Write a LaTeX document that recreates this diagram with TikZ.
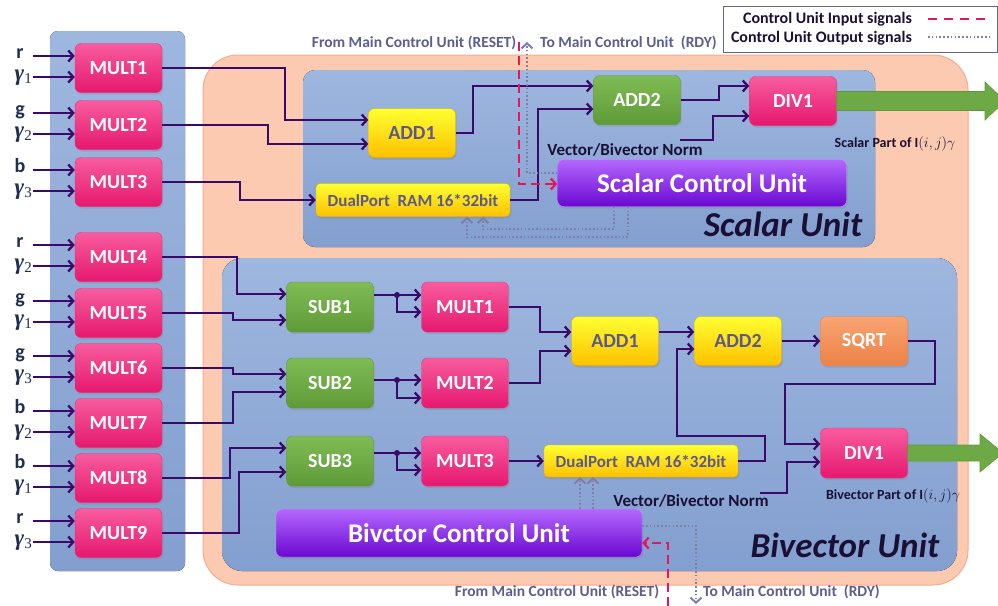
\documentclass[tikz,border=0pt]{standalone}
\usepackage{fontspec}
\setmainfont{Carlito}
\newfontfamily\gfont{Liberation Serif}
\usetikzlibrary{arrows.meta,shadows,calc}
\definecolor{pinkT}{HTML}{F85C9E}
\definecolor{pinkB}{HTML}{E6186F}
\definecolor{yelT}{HTML}{FFFF30}
\definecolor{yelB}{HTML}{FFC000}
\definecolor{yelD}{HTML}{D8B000}
\definecolor{grnT}{HTML}{80BC55}
\definecolor{grnB}{HTML}{5E9B38}
\definecolor{purT}{HTML}{B468FF}
\definecolor{purB}{HTML}{6A08D0}
\definecolor{orgT}{HTML}{F8A472}
\definecolor{orgB}{HTML}{EC8246}
\definecolor{connc}{HTML}{3A0A6A}
\definecolor{ctlgray}{HTML}{7E7EA8}
\definecolor{ctlred}{HTML}{E5175C}
\definecolor{panelT}{HTML}{9EB7DF}
\definecolor{panelB}{HTML}{839FCF}
\definecolor{salmon}{HTML}{FCC9B1}
\definecolor{salmonD}{HTML}{F4AC8E}
\definecolor{yeltext}{HTML}{5A5A8A}
\definecolor{sigtext}{HTML}{5C5E8E}
\definecolor{darktext}{HTML}{1A1035}
\definecolor{lbltext}{HTML}{1F2F4F}
\definecolor{arrgreen}{HTML}{6DAA45}
\newcommand{\gam}[1]{{\gfont\fontsize{23}{23}\selectfont\bfseries\itshape γ}\raisebox{-3pt}{\gfont\fontsize{15}{15}\selectfont #1}}
\tikzset{
  box/.style={rounded corners=6pt, minimum width=87pt, minimum height=49pt, inner sep=0pt,
    font=\fontsize{20}{20}\selectfont\bfseries,
    drop shadow={shadow xshift=1.2pt, shadow yshift=-2pt, opacity=0.3}},
  multbox/.style={box, top color=pinkT, bottom color=pinkB, draw=pinkB!90!white, text=white},
  subbox/.style={box, top color=grnT, bottom color=grnB, draw=grnB, text=white},
  addbox/.style={box, top color=yelT, bottom color=yelB, draw=yelD, text=yeltext},
  sqrtbox/.style={box, top color=orgT, bottom color=orgB, draw=orgB, text=white},
  rambox/.style={addbox, minimum width=194pt, minimum height=33pt, rounded corners=4pt,
    font=\fontsize{17}{17}\selectfont\bfseries},
  cubox/.style={box, top color=purT, bottom color=purB, draw=purT!70!white, text=white,
    font=\fontsize{27}{27}\selectfont\bfseries},
  conn/.style={draw=connc, line width=2.3pt, -{Straight Barb[length=5pt,width=11pt,line width=2.3pt]}},
  ctlout/.style={draw=ctlgray, line width=2pt, dash pattern=on 1.6pt off 2.2pt},
  ctlin/.style={draw=ctlred, line width=2.4pt, dash pattern=on 9pt off 5pt},
  chev/.style={-{Straight Barb[length=5pt,width=11pt,line width=2pt]}},
  lbl/.style={inner sep=0pt, text=lbltext, font=\fontsize{20}{20}\selectfont\bfseries, text height=12pt, text depth=2pt},
  glbl/.style={inner sep=0pt, text=lbltext, anchor=east, text height=9pt, text depth=5pt},
  sig/.style={inner sep=0pt, text=sigtext, font=\fontsize{15.5}{15.5}\selectfont\bfseries},
  legtxt/.style={inner sep=0pt, text=darktext, font=\fontsize{16}{16}\selectfont\bfseries, anchor=east},
  normtxt/.style={inner sep=0pt, text=darktext, font=\fontsize{17}{17}\selectfont\bfseries},
  parttxt/.style={inner sep=0pt, text=darktext, font=\fontsize{14}{14}\selectfont\bfseries},
  title/.style={inner sep=0pt, text=darktext, font=\fontsize{35}{35}\selectfont\bfseries\itshape},
  dotn/.style={circle, fill=connc, inner sep=0pt, minimum size=6pt},
  gout/.style={fill=arrgreen, draw=grnB, line width=0.6pt}
}
\begin{document}
\begin{tikzpicture}[x=1pt,y=-1pt]
\clip (0,0) rectangle (998,605);
\fill[white] (0,0) rectangle (998,605);

% panels
\fill[rounded corners=8pt, top color=panelT, bottom color=panelB] (50,31) rectangle (185,571);
\filldraw[fill=salmon, draw=salmonD, line width=1pt, rounded corners=35pt] (203,55) rectangle (968,585);
\fill[rounded corners=12pt, top color=panelT, bottom color=panelB] (303,70) rectangle (875,247);
\fill[rounded corners=20pt, top color=panelT, bottom color=panelB] (222,258) rectangle (957,571);

% legend
\node[draw=ctlgray!80!black, line width=1pt, minimum width=274pt, minimum height=46pt, anchor=north west, inner sep=0pt, fill=white] (legbox) at (723,6) {};
\node[legtxt] (leg1) at (912,19) {Control Unit Input signals};
\node[legtxt] (leg2) at (912,38) {Control Unit Output signals};
\coordinate (l1a) at (928,19); \coordinate (l1b) at (990,19);
\coordinate (l2a) at (928,37); \coordinate (l2b) at (990,37);
\draw[ctlin, line width=2.2pt, dash pattern=on 9pt off 7pt] (l1a) -- (l1b);
\draw[ctlout] (l2a) -- (l2b);

% left multipliers and inputs
\foreach \i/\y/\c/\g in {1/68/r/1, 2/125/g/2, 3/182/b/3, 4/257/r/2, 5/313/g/1, 6/368/g/3, 7/423/b/2, 8/478/b/1, 9/533/r/3} {
  \node[multbox] (m\i) at (118.5,\y) {MULT\i};
  \node[lbl] (c\i) at (20,\y-15) {\c};
  \node[glbl] (g\i) at (32,\y+10) {\gam{\g}};
  \coordinate (ca\i) at (33,\y-12);
  \coordinate (ga\i) at (33,\y+9);
  \draw[conn] (ca\i) -- (m\i.west |- ca\i);
  \draw[conn] (ga\i) -- (m\i.west |- ga\i);
}

% scalar unit
\node[addbox] (sadd1) at (412,133) {ADD1};
\node[rambox] (sram) at (413,200) {DualPort\ \ RAM\ 16*32bit};
\node[subbox] (sadd2) at (637,100) {ADD2};
\node[multbox] (sdiv) at (793,101) {DIV1};
\node[cubox, minimum width=289pt, minimum height=47pt] (scu) at (702,183) {Scalar Control Unit};
\node[title] (stitle) at (783,224) {Scalar Unit};
\node[normtxt] (snormtxt) at (625,150) {Vector/Bivector Norm};
\node[parttxt] (spart) at (895,144) {Scalar Part\ of I$(i,j)\gamma$};
\coordinate (snorm) at (680,140);

\draw[conn] (m1.east) -| (285,120) -- (sadd1.west |- 0,120);
\draw[conn] (m2.east) -| (268,144) -- (sadd1.west |- 0,144);
\draw[conn] (m3.east) -| (240,200) -- (sram.west |- 0,200);
\draw[conn] (sadd1.east) -| (473,86) -- (sadd2.west |- 0,86);
\draw[conn] (sram.east) -| (538,109) -- (sadd2.west |- 0,109);
\draw[conn] (sadd2.east) -| (719,86) -- (sdiv.west |- 0,86);
\draw[conn] (snorm) -| (713,116) -- (sdiv.west |- 0,116);

\fill[gout] ($(sdiv.east)+(0,-9.5)$) -- (985,91.5) -- (985,82) -- (1005,101) -- (985,120) -- (985,110.5) -- ($(sdiv.east)+(0,9.5)$) -- cycle;

% scalar control signals
\node[sig] (sfrom) at (414,43) {From Main Control Unit (RESET)};
\node[sig, anchor=west] (sto) at (540,43) {To Main Control Unit\ \ (RDY)};
\coordinate (sreset) at (519,42);
\coordinate (srdy) at (527,42);
\draw[ctlout, chev] (scu.west |- 0,173) -| (srdy);
\draw[ctlin, -{Straight Barb[length=5pt,width=11pt,line width=2.2pt]}] (sreset) |- (scu.west |- 0,184);
\draw[ctlout, chev] (scu.south -| 614,0) |- (483,229) -- (sram.south -| 483,0);
\draw[ctlout, chev] (scu.south -| 628,0) |- (467,237) -- (sram.south -| 467,0);

% bivector unit
\node[subbox, minimum height=50pt] (sub1) at (330,307) {SUB1};
\node[subbox, minimum height=50pt] (sub2) at (330,383) {SUB2};
\node[subbox, minimum height=50pt] (sub3) at (330,461) {SUB3};
\node[multbox, minimum height=50pt] (bm1) at (465,307) {MULT1};
\node[multbox, minimum height=50pt] (bm2) at (465,383) {MULT2};
\node[multbox, minimum height=50pt] (bm3) at (465,461) {MULT3};
\node[addbox] (badd1) at (615,341) {ADD1};
\node[addbox] (badd2) at (738,341) {ADD2};
\node[sqrtbox] (sqrt) at (864,341) {SQRT};
\node[multbox, minimum height=50pt] (bdiv) at (864,453) {DIV1};
\node[rambox, minimum height=32pt] (bram) at (641,461) {DualPort\ \ RAM\ 16*32bit};
\node[cubox, minimum width=366pt, minimum height=48pt] (bcu) at (459,533) {Bivctor Control Unit};
\node[title] (btitle) at (845,545) {Bivector Unit};
\node[normtxt] (bnormtxt) at (691,501) {Vector/Bivector Norm};
\node[parttxt] (bpart) at (893,496) {Bivector Part\ of I$(i,j)\gamma$};
\coordinate (bnorm) at (760,493);

\draw[conn] (m4.east) -| (237,294) -- (sub1.west |- 0,294);
\draw[conn] (m5.east) -| (233,320) -- (sub1.west |- 0,320);
\draw[conn] (m6.east) -| (233,374) -- (sub2.west |- 0,374);
\draw[conn] (m7.east) -| (233,392) -- (sub2.west |- 0,392);
\draw[conn] (m8.east) -| (230,448) -- (sub3.west |- 0,448);
\draw[conn] (m9.east) -| (239,472) -- (sub3.west |- 0,472);

\node[dotn] (d1) at (397,295) {};
\node[dotn] (d2) at (397,380) {};
\node[dotn] (d3) at (397,453) {};
\draw[conn] (sub1.east |- d1) -- (bm1.west |- d1);
\draw[conn] (d1.center) |- (bm1.west |- 0,312);
\draw[conn] (sub2.east |- d2) -- (bm2.west |- d2);
\draw[conn] (d2.center) |- (bm2.west |- 0,398);
\draw[conn] (sub3.east |- d3) -- (bm3.west |- d3);
\draw[conn] (d3.center) |- (bm3.west |- 0,470);

\draw[conn] (bm1.east) -| (540,332) -- (badd1.west |- 0,332);
\draw[conn] (bm2.east) -| (540,351) -- (badd1.west |- 0,351);
\draw[conn] (bm3.east) -- (bram.west |- bm3.east);
\draw[conn] (badd1.east |- 0,332) -- (badd2.west |- 0,332);
\draw[conn] (bram.east) -| (765,436) -| (677,349) -- (badd2.west |- 0,349);
\draw[conn] (badd2.east) -- (sqrt.west);
\draw[conn] (sqrt.east) -| (935,384) -| (785,444) -- (bdiv.west |- 0,444);
\draw[conn] (bnorm) -| (787,462) -- (bdiv.west |- 0,462);

\fill[gout] ($(bdiv.east)+(0,-8)$) -- (980,445) -- (980,434) -- (1003,453) -- (980,472) -- (980,461) -- ($(bdiv.east)+(0,8)$) -- cycle;

% bivector control signals
\node[sig] (bfrom) at (557,592) {From Main Control Unit (RESET)};
\node[sig, anchor=west] (bto) at (703,592) {To Main Control Unit\ \ (RDY)};
\coordinate (breset) at (668,606);
\coordinate (brdy) at (696,604);
\draw[ctlout, chev] (bcu.north -| 580,0) -- (bram.south -| 580,0);
\draw[ctlout, chev] (bcu.north -| 593,0) -- (bram.south -| 593,0);
\draw[ctlout, chev] (bcu.east |- 0,526) -| (brdy);
\draw[ctlin, -{Straight Barb[length=5pt,width=11pt,line width=2.2pt]}] (breset) |- (bcu.east |- 0,543);
\end{tikzpicture}
\end{document}
